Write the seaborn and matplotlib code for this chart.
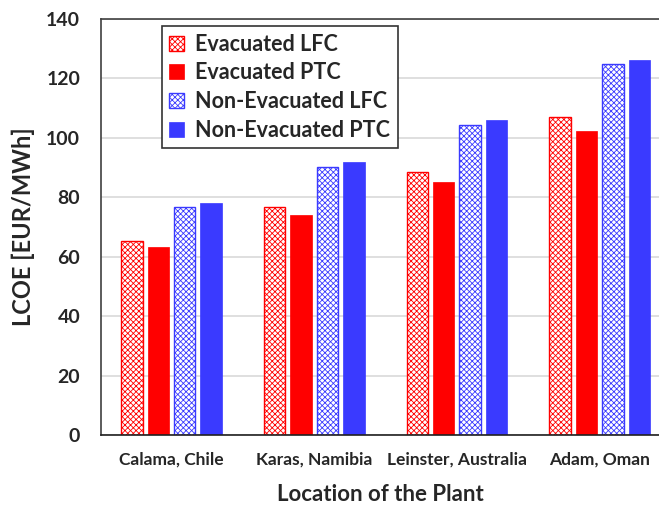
import numpy as np
import pandas as pd
import seaborn as sns
import matplotlib as mpl
import matplotlib.pyplot as plt
from matplotlib.patches import Patch

locations = ["Calama, Chile", "Karas, Namibia", "Leinster, Australia", "Adam, Oman"]
series = ["Evacuated LFC", "Evacuated PTC", "Non-Evacuated LFC", "Non-Evacuated PTC"]
evac_lfc = [65.3, 76.7, 88.4, 106.9]
evac_ptc = [63.4, 74.2, 85.0, 102.3]
nonevac_lfc = [76.7, 90.3, 104.3, 124.8]
nonevac_ptc = [78.0, 92.0, 105.9, 126.1]
yticks = [0, 20, 40, 60, 80, 100, 120, 140]

colors = ["#ff0000", "#ff0000", "#3a3aff", "#3a3aff"]
hatched = [True, False, True, False]

rows = []
for s, vals in zip(series, [evac_lfc, evac_ptc, nonevac_lfc, nonevac_ptc]):
    for loc, v in zip(locations, vals):
        rows.append({"Location": loc, "Series": s, "LCOE": v})
df = pd.DataFrame(rows)

sns.set_style("white")
plt.rcParams["font.family"] = ["Lato", "DejaVu Sans"]
plt.rcParams["hatch.linewidth"] = 0.6

fig = plt.figure(figsize=(6.59, 5.05), dpi=100)
ax = fig.add_axes([101 / 659, 70 / 505, 558 / 659, 416 / 505])

sns.barplot(data=df, x="Location", y="LCOE", hue="Series", order=locations,
            hue_order=series, palette=colors, width=0.74, gap=0.19,
            errorbar=None, legend=False, ax=ax)

for cont, c, h in zip(ax.containers, colors, hatched):
    for p in cont:
        if h:
            p.set_facecolor("white")
            p.set_hatch("xxxxxx")
            p.set_edgecolor(c)
            p.set_linewidth(1.0)
        else:
            p.set_facecolor(c)
            p.set_edgecolor(c)
            p.set_linewidth(0.5)

ax.set_ylim(0, 140)
ax.set_xlim(-0.494, 3.416)
ax.set_yticks(yticks)
ax.set_yticklabels([str(t) for t in yticks], fontsize=14, fontweight="bold")
ax.tick_params(axis="x", labelsize=12.5, length=0, pad=12)
for lab in ax.get_xticklabels():
    lab.set_fontweight("bold")
ax.tick_params(axis="y", length=0, pad=15)
ax.yaxis.grid(True, color="#d9d9d9", linewidth=1.2)
ax.set_axisbelow(True)

ax.set_xlabel("Location of the Plant", fontsize=16, fontweight="bold", labelpad=12)
ax.set_ylabel("LCOE [EUR/MWh]", fontsize=17, fontweight="bold", labelpad=8)

for side in ["left", "top", "bottom"]:
    ax.spines[side].set_visible(True)
    ax.spines[side].set_linewidth(1.2)
ax.spines["left"].set_color("#404040")
ax.spines["top"].set_color("#404040")
ax.spines["bottom"].set_color("#202020")
ax.spines["right"].set_visible(False)

handles = []
for s, c, h in zip(series, colors, hatched):
    if h:
        handles.append(Patch(facecolor="white", edgecolor=c, hatch="xxxxxx", linewidth=1.0, label=s))
    else:
        handles.append(Patch(facecolor=c, edgecolor=c, linewidth=0.5, label=s))
leg = ax.legend(handles=handles, loc="upper left", bbox_to_anchor=(0.109, 0.983),
                borderaxespad=0, fancybox=False, edgecolor="#333333",
                prop={"size": 15.5, "weight": "bold"}, handlelength=0.7,
                handleheight=0.7, handletextpad=0.5, labelspacing=0.36,
                borderpad=0.35, framealpha=1)
leg.get_frame().set_linewidth(1.2)

fig.savefig("out.png", dpi=100)
